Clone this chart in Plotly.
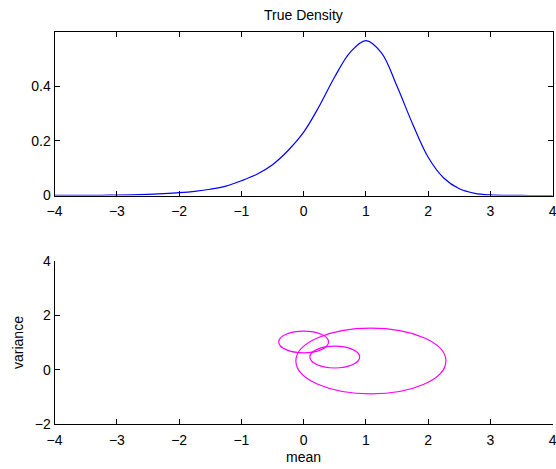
import plotly.graph_objects as go

# Density curve samples (x, f(x))
dens_x = [-4.0, -3.75, -3.5, -3.25, -3.0, -2.75, -2.5, -2.25, -2.0, -1.75,
          -1.5, -1.25, -1.0, -0.75, -0.5, -0.25, 0.0, 0.25, 0.5, 0.75,
          1.0, 1.25, 1.5, 1.75, 2.0, 2.25, 2.5, 2.75, 3.0, 3.25,
          3.5, 3.75, 4.0]
dens_y = [0.0001, 0.0002, 0.0004, 0.0008, 0.0015, 0.0026, 0.0042, 0.0068, 0.0102, 0.0152,
          0.0230, 0.0345, 0.0540, 0.0780, 0.1130, 0.1650, 0.2320, 0.3270, 0.4350, 0.5250,
          0.5670, 0.5220, 0.4000, 0.2620, 0.1400, 0.0640, 0.0245, 0.0079, 0.0021, 0.0005,
          0.0001, 0.0000, 0.0000]

# Components in (mean, variance) space: centre and radius
comp_mean = [0.0, 0.5, 1.08]
comp_var = [1.02, 0.465, 0.32]
comp_rad = [0.40, 0.40, 1.205]

x_ticks = [-4, -3, -2, -1, 0, 1, 2, 3, 4]
top_yticks = [0, 0.2, 0.4]
bot_yticks = [-2, 0, 2, 4]

W, H = 556, 469
FONT = dict(family="Liberation Sans, Arial, sans-serif", size=14, color="black")

fig = go.Figure()
fig.add_trace(go.Scatter(x=dens_x, y=dens_y, mode="lines",
                         line=dict(color="#0000ff", width=1.2, shape="spline", smoothing=1.0),
                         xaxis="x", yaxis="y", showlegend=False, hoverinfo="skip",
                         cliponaxis=True))
# invisible anchor trace so the lower axes render
fig.add_trace(go.Scatter(x=comp_mean, y=comp_var, mode="markers", marker=dict(opacity=0),
                         xaxis="x2", yaxis="y2", showlegend=False, hoverinfo="skip"))

for cx, cy, r in zip(comp_mean, comp_var, comp_rad):
    fig.add_shape(type="circle", xref="x2", yref="y2",
                  x0=cx - r, x1=cx + r, y0=cy - r, y1=cy + r,
                  line=dict(color="#ff00ff", width=1.2))

xdom = [54.6 / W, 552.7 / W]
axis_common = dict(showgrid=False, zeroline=False, showline=True, linecolor="black",
                   linewidth=1, ticks="inside", ticklen=5, tickcolor="black",
                   tickwidth=1, tickfont=FONT, automargin=False,
                   ticklabeloverflow="allow")

fig.update_layout(
    width=W, height=H,
    margin=dict(l=0, r=0, t=0, b=0),
    paper_bgcolor="white", plot_bgcolor="white",
    font=FONT,
    xaxis=dict(domain=xdom, range=[-4, 4], tickvals=x_ticks, mirror="ticks",
               anchor="y", ticklabelstandoff=3, **axis_common),
    yaxis=dict(domain=[1 - 195.5 / H, 1 - 31.7 / H], range=[0, 0.6],
               tickvals=top_yticks, mirror="ticks", anchor="x", **axis_common),
    xaxis2=dict(domain=xdom, range=[-4, 4], tickvals=x_ticks, anchor="y2",
                ticklabelstandoff=3, **axis_common),
    yaxis2=dict(domain=[1 - 424.3 / H, 1 - 260.7 / H], range=[-2, 4],
                tickvals=bot_yticks, anchor="x2", **axis_common),
    annotations=[
        dict(text="True Density", x=303.6 / W, y=1 - 15 / H, xref="paper", yref="paper",
             showarrow=False, font=FONT, xanchor="center", yanchor="middle"),
        dict(text="mean", x=303.6 / W, y=1 - 457 / H, xref="paper", yref="paper",
             showarrow=False, font=FONT, xanchor="center", yanchor="middle"),
        dict(text="variance", x=18 / W, y=1 - 343 / H, xref="paper", yref="paper",
             showarrow=False, font=FONT, textangle=-90, xanchor="center", yanchor="middle"),
    ],
)

fig.write_html("out.html")
